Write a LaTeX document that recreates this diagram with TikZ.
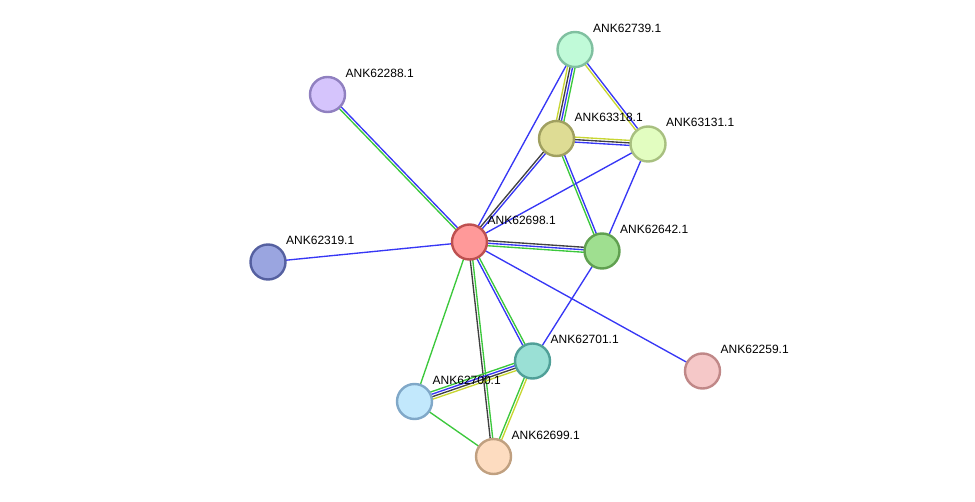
\documentclass[tikz,border=0pt]{standalone}
\usepackage{fontspec}
\setmainfont{Liberation Sans}
\usetikzlibrary{calc,backgrounds}
\definecolor{eblue}{RGB}{55,55,245}
\definecolor{egreen}{RGB}{60,200,60}
\definecolor{eblack}{RGB}{65,65,65}
\definecolor{eyellow}{RGB}{200,214,50}
\tikzset{
  prot/.style={circle, minimum size=35pt, inner sep=0pt, line width=2.4pt},
  lbl/.style={anchor=base west, font=\fontsize{12}{14}\selectfont, inner sep=0pt, text=black},
}
\newcommand\linkset[3]{%
  \foreach \col [count=\ii] in {#3} {\xdef\nlines{\ii}}%
  \foreach \col [count=\ii] in {#3} {%
    \pgfmathsetmacro\off{(\ii-(\nlines+1)/2)*2.5}%
    \draw[\col, line width=1.35pt] ($(#1)!\off pt!90:(#2)$) -- ($(#2)!\off pt!-90:(#1)$);
  }}
\begin{document}
\begin{tikzpicture}[x=1pt,y=-1pt]
\useasboundingbox (0,0) rectangle (975,502);
% nodes
\node[prot, fill={rgb,255:red,255;green,153;blue,153}, draw={rgb,255:red,190;green,80;blue,80}] (p98) at (469.5,242) {};
\node[prot, fill={rgb,255:red,192;green,250;blue,216}, draw={rgb,255:red,128;green,192;blue,160}] (p39) at (575,49.5) {};
\node[prot, fill={rgb,255:red,222;green,220;blue,148}, draw={rgb,255:red,160;green,160;blue,96}] (p18) at (556.5,138.5) {};
\node[prot, fill={rgb,255:red,226;green,253;blue,192}, draw={rgb,255:red,168;green,192;blue,128}] (p31) at (648,144) {};
\node[prot, fill={rgb,255:red,159;green,223;blue,144}, draw={rgb,255:red,96;green,160;blue,80}] (p42) at (602,251) {};
\node[prot, fill={rgb,255:red,213;green,196;blue,252}, draw={rgb,255:red,144;green,128;blue,192}] (p88) at (327.5,94.5) {};
\node[prot, fill={rgb,255:red,154;green,165;blue,224}, draw={rgb,255:red,85;green,96;blue,160}] (p19) at (268,262) {};
\node[prot, fill={rgb,255:red,154;green,224;blue,213}, draw={rgb,255:red,80;green,160;blue,152}] (p01) at (532.5,361) {};
\node[prot, fill={rgb,255:red,245;green,200;blue,200}, draw={rgb,255:red,192;green,136;blue,136}] (p59) at (702.5,371) {};
\node[prot, fill={rgb,255:red,194;green,232;blue,252}, draw={rgb,255:red,128;green,168;blue,200}] (p00) at (414.5,401.5) {};
\node[prot, fill={rgb,255:red,253;green,220;blue,192}, draw={rgb,255:red,192;green,160;blue,128}] (p99) at (493.5,456.5) {};
% edges
\begin{pgfonlayer}{background}
\linkset{p98}{p88}{eblue,egreen}
\linkset{p98}{p19}{eblue}
\linkset{p98}{p39}{eblue}
\linkset{p98}{p18}{eblue,eblack}
\linkset{p98}{p31}{eblue}
\linkset{p98}{p42}{egreen,eblue,eblack}
\linkset{p98}{p01}{eblue,egreen}
\linkset{p98}{p99}{eblack,egreen}
\linkset{p98}{p00}{egreen}
\linkset{p98}{p59}{eblue}
\linkset{p39}{p18}{eyellow,eblack,eblue,egreen}
\linkset{p39}{p31}{eyellow,eblue}
\linkset{p18}{p31}{eblue,eblack,eyellow}
\linkset{p18}{p42}{egreen,eblue}
\linkset{p31}{p42}{eblue}
\linkset{p42}{p01}{eblue}
\linkset{p01}{p00}{egreen,eblue,eblack,eyellow}
\linkset{p01}{p99}{egreen,eyellow}
\linkset{p00}{p99}{egreen}
\end{pgfonlayer}
% labels
\node[lbl] (l98) at ($(p98.center)+(18,-17)$) {ANK62698.1};
\node[lbl] (l39) at ($(p39.center)+(18,-17)$) {ANK62739.1};
\node[lbl] (l18) at ($(p18.center)+(18,-17)$) {ANK63318.1};
\node[lbl] (l31) at ($(p31.center)+(18,-17)$) {ANK63131.1};
\node[lbl] (l42) at ($(p42.center)+(18,-17)$) {ANK62642.1};
\node[lbl] (l88) at ($(p88.center)+(18,-17)$) {ANK62288.1};
\node[lbl] (l19) at ($(p19.center)+(18,-17)$) {ANK62319.1};
\node[lbl] (l01) at ($(p01.center)+(18,-17)$) {ANK62701.1};
\node[lbl] (l59) at ($(p59.center)+(18,-17)$) {ANK62259.1};
\node[lbl] (l00) at ($(p00.center)+(18,-17)$) {ANK62700.1};
\node[lbl] (l99) at ($(p99.center)+(18,-17)$) {ANK62699.1};
\end{tikzpicture}
\end{document}
